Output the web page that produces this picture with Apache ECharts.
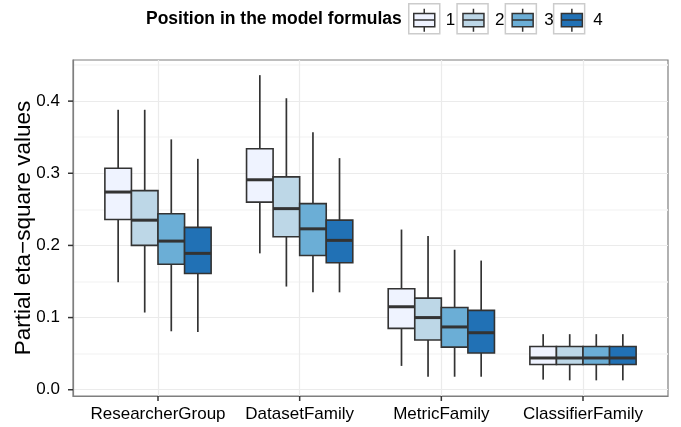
<!DOCTYPE html>
<html>
<head>
<meta charset="utf-8">
<script src="https://cdn.jsdelivr.net/npm/echarts@6/dist/echarts.min.js"></script>
<style>
html,body{margin:0;padding:0;background:#fff}
#chart{width:681px;height:427px}
</style>
</head>
<body>
<div id="chart"></div>
<script>
// x categories
const categories = ['ResearcherGroup', 'DatasetFamily', 'MetricFamily', 'ClassifierFamily'];
// legend entries (position in the model formulas)
const positions = ['1', '2', '3', '4'];
const colors = ['#EFF3FF', '#BDD7E7', '#6BAED6', '#2171B5'];

// one row per category: [lower whisker, Q1, median, Q3, upper whisker]
const pos1 = [
  [0.149, 0.236, 0.274, 0.307, 0.388],
  [0.189, 0.260, 0.291, 0.334, 0.436],
  [0.033, 0.085, 0.115, 0.140, 0.222],
  [0.014, 0.035, 0.044, 0.060, 0.077]
];
const pos2 = [
  [0.107, 0.200, 0.235, 0.276, 0.388],
  [0.143, 0.212, 0.251, 0.295, 0.404],
  [0.018, 0.069, 0.100, 0.127, 0.213],
  [0.013, 0.035, 0.044, 0.060, 0.077]
];
const pos3 = [
  [0.081, 0.174, 0.206, 0.244, 0.347],
  [0.135, 0.186, 0.223, 0.258, 0.357],
  [0.018, 0.059, 0.087, 0.114, 0.194],
  [0.013, 0.035, 0.044, 0.060, 0.077]
];
const pos4 = [
  [0.080, 0.161, 0.189, 0.225, 0.320],
  [0.135, 0.176, 0.207, 0.235, 0.321],
  [0.018, 0.051, 0.079, 0.110, 0.179],
  [0.013, 0.035, 0.044, 0.060, 0.077]
];
const allPositions = [pos1, pos2, pos3, pos4];

const yTicks = [0, 0.1, 0.2, 0.3, 0.4];
const xTicks = [0, 1, 2, 3];
const xMin = -0.6, xMax = 3.6;
const yMin = -0.0087, yMax = 0.457;

const FONT = '"Liberation Sans", Arial, sans-serif';
const dodge = 0.75;           // total width of the 4 boxes, in category units
const boxW = dodge / 4;
const TICK = 5;

function renderBox(k) {
  return function (params, api) {
    const c = api.value(0) + (k - 1.5) * boxW;
    const p0 = api.coord([c - boxW / 2, api.value(4)]);
    const p1 = api.coord([c + boxW / 2, api.value(2)]);
    const cx = api.coord([c, api.value(3)])[0];
    const yLo = api.coord([c, api.value(1)])[1];
    const yMed = api.coord([c, api.value(3)])[1];
    const yHi = api.coord([c, api.value(5)])[1];
    const line = { stroke: '#333', lineWidth: 1.7 };
    return {
      type: 'group',
      children: [
        { type: 'line', shape: { x1: cx, y1: p0[1], x2: cx, y2: yHi }, style: line },
        { type: 'line', shape: { x1: cx, y1: p1[1], x2: cx, y2: yLo }, style: line },
        { type: 'rect', shape: { x: p0[0], y: p0[1], width: p1[0] - p0[0], height: p1[1] - p0[1] },
          style: { fill: colors[k], stroke: '#333', lineWidth: 1.6 } },
        { type: 'line', shape: { x1: p0[0], y1: yMed, x2: p1[0], y2: yMed },
          style: { stroke: '#333', lineWidth: 3 } }
      ]
    };
  };
}

const series = allPositions.map(function (rows, k) {
  return {
    name: positions[k],
    type: 'custom',
    itemStyle: { color: colors[k] },
    encode: { x: 0, y: [1, 2, 3, 4, 5] },
    data: rows.map(function (r, i) { return [i].concat(r); }),
    renderItem: renderBox(k)
  };
});

// axis tick marks (outside the panel), placed through the axes' scales
series.push({
  type: 'custom', silent: true, clip: false, zlevel: 1, z: 10,
  encode: { x: 0, y: 1 },
  data: yTicks.map(function (v) { return [xMin, v]; }),
  renderItem: function (params, api) {
    const p = api.coord([api.value(0), api.value(1)]);
    return { type: 'rect', shape: { x: p[0] - TICK, y: p[1] - 0.75, width: TICK, height: 1.5 },
      style: { fill: '#333' } };
  }
});
series.push({
  type: 'custom', silent: true, clip: false, zlevel: 1, z: 10,
  encode: { x: 0, y: 1 },
  data: xTicks.map(function (v) { return [v, yMin]; }),
  renderItem: function (params, api) {
    const p = api.coord([api.value(0), api.value(1)]);
    return { type: 'rect', shape: { x: p[0] - 0.75, y: p[1], width: 1.5, height: TICK },
      style: { fill: '#333' } };
  }
});

// grey frames around the legend keys
const keyFrames = positions.map(function (p, k) {
  return {
    type: 'rect', left: 408 + k * 48.3, top: 3,
    shape: { width: 31, height: 30 },
    style: { fill: '#fff', stroke: '#cccccc', lineWidth: 1.5 },
    z: -1
  };
});

const chart = echarts.init(document.getElementById('chart'));
chart.setOption({
  animation: false,
  title: {
    text: 'Position in the model formulas',
    left: 146, top: 10, padding: 0,
    textStyle: { fontFamily: FONT, fontSize: 17.5, fontWeight: 'bold', color: '#000' }
  },
  graphic: keyFrames,
  legend: {
    left: 413, top: 8, padding: 0,
    itemWidth: 21, itemHeight: 23, itemGap: 7,
    selectedMode: false,
    icon: 'path://M0,4.7H21V18H0Z M0,11.3H21 M10.5,0V4.7 M10.5,18V23',
    itemStyle: { borderColor: '#333', borderWidth: 1.5 },
    textStyle: { fontFamily: FONT, fontSize: 17, color: '#000', padding: [0, 0, 0, 6] },
    data: positions
  },
  grid: {
    left: 73, right: 13, top: 60, bottom: 31,
    outerBoundsMode: 'none',
    show: true, borderColor: '#7f7f7f', borderWidth: 1.2, backgroundColor: 'transparent'
  },
  xAxis: {
    type: 'value', min: xMin, max: xMax,
    axisLine: { show: true, onZero: false, lineStyle: { color: '#7f7f7f', width: 1.2 } },
    axisTick: { show: false, customValues: xTicks },
    axisLabel: {
      customValues: xTicks, margin: 10,
      fontFamily: FONT, fontSize: 17, color: '#000',
      formatter: function (v) { return categories[v]; }
    },
    splitLine: { show: true, lineStyle: { color: '#ebebeb', width: 1.2 } }
  },
  yAxis: {
    type: 'value', min: yMin, max: yMax,
    name: 'Partial eta\u2212square values',
    nameLocation: 'middle', nameGap: 38, nameMoveOverlap: false,
    nameTextStyle: { fontFamily: FONT, fontSize: 22.5, color: '#000' },
    axisLine: { show: true, onZero: false, lineStyle: { color: '#7f7f7f', width: 1.2 } },
    axisTick: { show: false, customValues: yTicks },
    axisLabel: {
      customValues: yTicks, margin: 13,
      fontFamily: FONT, fontSize: 17, color: '#000',
      formatter: function (v) { return v.toFixed(1); }
    },
    splitLine: { show: true, lineStyle: { color: '#ebebeb', width: 1.2 } },
    minorTick: { show: false, splitNumber: 2 },
    minorSplitLine: { show: true, lineStyle: { color: '#f6f6f6', width: 1.5 } }
  },
  series: series
});
</script>
</body>
</html>
